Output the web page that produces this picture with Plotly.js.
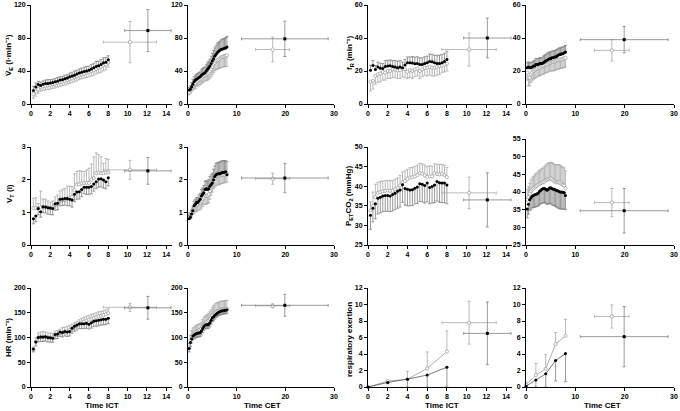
<!DOCTYPE html>
<html>
<head>
<meta charset="utf-8">
<script src="https://cdn.plot.ly/plotly-3.0.1.min.js"></script>
<style>
html, body { margin: 0; padding: 0; background: #fff; }
#chart { width: 680px; height: 411px; }
</style>
</head>
<body>
<div id="chart"></div>
<script>
// sample times (min) of the breath-by-breath means
var time = [0.25, 0.5, 0.75, 1, 1.25, 1.5, 1.75, 2, 2.25, 2.5, 2.75, 3, 3.25, 3.5, 3.75, 4,
            4.25, 4.5, 4.75, 5, 5.25, 5.5, 5.75, 6, 6.25, 6.5, 6.75, 7, 7.25, 7.5, 7.75, 8];
var exertionTime = [0, 2, 4, 6, 8];

// end-of-test points: [filled, open]
var endIctX = [12.1, 10.25];
var endIctXSd = [2.4, 2.75];
var endCetX = [19.9, 17.4];
var endCetXSd = [8.9, 3.5];

// VE
var veIctFilled = [16.5, 20.5, 23.5, 22.5, 24, 25, 25, 25.5, 26, 27, 27.5, 29, 29.5, 30.5, 31.5, 33, 34, 35, 36.5, 37.5, 38.5, 39.5, 40, 41, 42.5, 44, 45.5, 46.5, 48, 50, 50.5, 53.5];
var veIctFilledSd = [5, 5, 4, 4, 4, 4, 4.5, 4, 4, 4, 4.5, 4, 4, 4.5, 4, 4.5, 4.5, 5, 4.5, 5, 5, 5, 5.5, 5, 5.5, 5.5, 6, 5.5, 6, 6, 6, 5];
var veIctOpen = [12, 15, 18, 20.5, 21.5, 22, 22.5, 23, 24, 24.5, 25.5, 26.5, 27, 28, 29, 30, 31, 32.5, 33.5, 35, 36, 37, 38, 39, 40, 41, 42.5, 44, 45, 46.5, 48, 50.5];
var veIctOpenSd = [5, 5.5, 5, 5, 5, 5, 5, 5, 5, 5, 5, 5, 5, 5, 5, 5, 5, 5.5, 5.5, 5.5, 5.5, 5.5, 6, 6, 6, 6, 6, 6.5, 6.5, 6.5, 6.5, 6];
var veCetFilled = [17, 18, 21, 24, 27, 29, 30, 31, 32, 33, 35, 36, 37, 38, 40, 42, 44, 46, 49, 52, 55, 58, 60, 62, 63.5, 65, 66, 66.5, 67, 67.5, 68, 69];
var veCetFilledSd = [3, 4, 5, 6, 6, 6, 6, 6, 6, 6, 6.5, 7, 7, 7, 7.5, 8, 8, 8.5, 9, 9.5, 10, 10, 10.5, 11, 11, 11, 11.5, 12, 12, 12, 12.5, 13];
var veCetOpen = [14, 17, 20, 22, 24, 25, 27, 28, 29, 30, 31, 33, 34, 35, 36, 37, 38, 40, 42, 45, 48, 50, 52, 53, 54, 55, 56, 57, 57.5, 58, 58.5, 59];
var veCetOpenSd = [3, 4, 5, 5, 6, 6, 6, 6, 6, 6.5, 6.5, 7, 7, 7, 7.5, 8, 8, 8.5, 9, 9.5, 10, 10, 10.5, 11, 11, 11.5, 12, 12, 12.5, 13, 13, 13.5];
var veIctEnd = [89, 75], veIctEndSd = [25.5, 25];
var veCetEnd = [79, 66], veCetEndSd = [21.5, 15];

// fR
var frIctFilled = [20.5, 23.4, 20.9, 22.4, 21.7, 21.5, 22.8, 23, 23.2, 22.8, 22.4, 21.9, 22.4, 21.9, 23.6, 25, 25, 24.8, 24.4, 24.6, 24, 24, 24.6, 25, 25.8, 25.6, 25, 24.6, 24.6, 25, 25.8, 27];
var frIctFilledSd = [3, 3, 2.5, 3, 3, 3, 3.5, 3.5, 3.5, 3.5, 4, 4, 4, 3.5, 3.5, 3.5, 3.5, 4, 4, 4, 4, 4, 4, 4, 4.5, 4.5, 4.5, 5, 5, 5, 5, 5];
var frIctOpen = [13.5, 14, 17, 18, 18.5, 19.5, 19, 20, 20, 21, 21, 20.5, 20.5, 21.5, 21, 19.5, 20.5, 20, 21, 21.5, 20, 21, 22, 22, 22.5, 22, 22, 22.5, 23, 23.5, 24, 24.5];
var frIctOpenSd = [5.5, 5, 5, 5, 5, 5, 4.5, 4.5, 4.5, 5, 5, 5, 5, 5, 5, 4, 4.5, 4.5, 4.5, 4.5, 4.5, 4.5, 4.5, 5, 5, 5, 5, 5, 5, 4.5, 4.5, 4.5];
var frCetFilled = [22, 22.5, 22, 22, 22.5, 23, 23, 24, 24, 24, 24.5, 24.5, 24.5, 25, 25.5, 26, 26.5, 27, 27.5, 27.5, 28, 28, 28.5, 28.5, 29, 29.5, 30, 30, 30.5, 30.5, 31, 31.5];
var frCetFilledSd = [3, 3, 3, 3, 3, 3, 3.5, 3.5, 3.5, 3.5, 3.5, 3.5, 3.5, 4, 4, 4, 4, 4, 4, 4, 4, 4, 4, 4, 4, 4, 4, 4, 4, 4, 4, 4];
var frCetOpen = [19, 16, 16, 18, 19, 20, 20.5, 21, 21.5, 22, 22, 22.5, 23, 23, 23.5, 24, 24, 24.5, 25, 25, 25.5, 25.5, 26, 26, 26.5, 26.5, 27, 27, 27, 27.5, 27.5, 28];
var frCetOpenSd = [4.5, 5, 5, 5, 5, 5, 5, 5, 5, 5, 5, 5, 5, 5, 5, 5, 5, 5, 5, 5, 5.5, 5.5, 5.5, 5.5, 5.5, 5.5, 5.5, 5.5, 5.5, 5.5, 5.5, 5.5];
var frIctEnd = [40, 33], frIctEndSd = [12, 10];
var frCetEnd = [39, 32.5], frCetEndSd = [8, 6.5];

// VT
var vtIctFilled = [0.80, 0.89, 1.12, 1.02, 1.17, 1.16, 1.14, 1.13, 1.12, 1.26, 1.28, 1.40, 1.41, 1.42, 1.42, 1.40, 1.38, 1.55, 1.62, 1.63, 1.70, 1.77, 1.77, 1.77, 1.79, 1.87, 1.94, 2.02, 2.03, 1.99, 1.94, 2.06];
var vtIctFilledSd = [0.15, 0.18, 0.2, 0.17, 0.18, 0.18, 0.2, 0.2, 0.2, 0.2, 0.2, 0.2, 0.2, 0.2, 0.22, 0.2, 0.22, 0.22, 0.22, 0.22, 0.22, 0.2, 0.22, 0.22, 0.22, 0.22, 0.22, 0.25, 0.25, 0.25, 0.22, 0.25];
var vtIctOpen = [1.13, 1.13, 1.12, 1.15, 1.16, 1.18, 1.15, 1.13, 1.15, 1.22, 1.25, 1.35, 1.37, 1.38, 1.42, 1.45, 1.47, 1.68, 1.85, 1.86, 1.88, 1.90, 1.90, 1.90, 2.0, 2.05, 2.20, 2.22, 2.20, 2.20, 2.22, 2.22];
var vtIctOpenSd = [0.30, 0.32, 0.15, 0.50, 0.25, 0.22, 0.20, 0.18, 0.20, 0.25, 0.28, 0.30, 0.32, 0.35, 0.38, 0.35, 0.32, 0.50, 0.40, 0.42, 0.38, 0.35, 0.40, 0.45, 0.48, 0.65, 0.62, 0.55, 0.50, 0.30, 0.43, 0.40];
var vtCetFilled = [0.8, 0.85, 0.95, 1.05, 1.2, 1.25, 1.3, 1.3, 1.35, 1.4, 1.5, 1.55, 1.6, 1.7, 1.72, 1.7, 1.72, 1.8, 1.85, 1.9, 2.0, 2.1, 2.15, 2.17, 2.18, 2.18, 2.2, 2.22, 2.22, 2.23, 2.24, 2.15];
var vtCetFilledSd = [0.1, 0.1, 0.12, 0.12, 0.15, 0.15, 0.15, 0.15, 0.18, 0.18, 0.2, 0.2, 0.22, 0.25, 0.25, 0.25, 0.28, 0.3, 0.3, 0.3, 0.32, 0.32, 0.34, 0.35, 0.35, 0.36, 0.36, 0.36, 0.36, 0.35, 0.34, 0.4];
var vtCetOpen = [0.95, 0.95, 1.0, 1.1, 1.15, 1.2, 1.22, 1.25, 1.28, 1.3, 1.35, 1.4, 1.45, 1.5, 1.5, 1.52, 1.55, 1.65, 1.8, 1.9, 2.0, 2.05, 2.1, 2.12, 2.12, 2.13, 2.14, 2.14, 2.15, 2.15, 2.17, 2.18];
var vtCetOpenSd = [0.15, 0.15, 0.15, 0.15, 0.18, 0.18, 0.2, 0.2, 0.2, 0.22, 0.22, 0.22, 0.22, 0.25, 0.25, 0.25, 0.25, 0.25, 0.28, 0.28, 0.28, 0.28, 0.28, 0.28, 0.28, 0.28, 0.26, 0.26, 0.25, 0.25, 0.25, 0.25];
var vtIctEnd = [2.27, 2.3], vtIctEndSd = [0.41, 0.29];
var vtCetEnd = [2.05, 2.03], vtCetEndSd = [0.45, 0.17];

// PETCO2
var petIctFilled = [32.6, 34.4, 35.5, 36.9, 37.2, 37.5, 37.6, 37.6, 37.5, 37.9, 38.2, 38.7, 39.0, 40.4, 39.4, 39.2, 39.0, 39.1, 39.5, 39.8, 40.6, 40.5, 40.2, 40.8, 39.7, 39.9, 40.3, 41.2, 40.9, 40.8, 40.8, 40.3];
var petIctFilledSd = [3.6, 3.5, 3.8, 4, 4, 4, 4, 4, 4, 4.2, 4.2, 4.3, 4.3, 4.5, 4.2, 4.2, 4, 4, 4, 4.2, 4.5, 4.5, 4.5, 4.8, 4.2, 4.2, 4.5, 5, 5, 5, 5, 4.8];
var petIctOpen = [33.8, 35, 37.2, 38.3, 38.5, 38.7, 38.8, 38.9, 38.8, 38.8, 39.2, 39.6, 40.2, 41, 41.3, 41.8, 42.2, 42.3, 42.5, 42.8, 43.3, 43.2, 42.8, 42.4, 42.5, 42.5, 43.3, 43.1, 43, 43.2, 42.8, 42.3];
var petIctOpenSd = [2.2, 3.5, 3.3, 2.7, 2.7, 2.6, 2.6, 2.6, 2.6, 2.7, 2.6, 2.5, 2.6, 2.6, 2.6, 2.5, 2.5, 2.5, 2.6, 2.6, 2.5, 2.5, 2.6, 2.6, 2.7, 2.6, 2.4, 2.5, 2.5, 2.4, 2.5, 2.5];
var petCetFilled = [35.2, 36.5, 37.8, 38.3, 38.8, 39.0, 39.2, 39.3, 39.5, 39.7, 40.2, 40.5, 40.8, 41.0, 41.0, 40.8, 40.5, 40.8, 41.1, 41.2, 41.0, 40.8, 40.8, 40.6, 40.4, 40.3, 40.1, 40.0, 40.0, 39.9, 39.8, 39.0];
var petCetFilledSd = [2.5, 2.8, 3, 3.2, 3.3, 3.4, 3.5, 3.5, 3.6, 3.6, 3.8, 3.8, 4, 4, 4, 4, 4, 4.2, 4.3, 4.5, 4.5, 4.6, 4.6, 4.7, 4.7, 4.8, 4.8, 4.8, 4.8, 4.8, 4.6, 4];
var petCetOpen = [37.8, 38.5, 39.5, 40.2, 40.7, 41.0, 41.3, 41.6, 41.8, 42.1, 42.3, 42.5, 42.7, 42.8, 43, 43.3, 43.5, 43.6, 43.7, 43.8, 43.6, 43.3, 43.0, 42.8, 42.7, 42.8, 42.7, 42.5, 42.2, 42.0, 41.8, 41.0];
var petCetOpenSd = [3, 3, 3, 3.2, 3.3, 3.4, 3.5, 3.6, 3.6, 3.8, 3.8, 3.9, 4, 4, 4.2, 4.3, 4.4, 4.5, 4.6, 4.6, 4.7, 4.8, 4.8, 4.9, 5, 5, 5, 5, 5, 5, 5, 5];
var petIctEnd = [36.5, 38.3], petIctEndSd = [6.9, 4];
var petCetEnd = [34.7, 37], petCetEndSd = [6.3, 4];

// HR
var hrIctFilled = [76.8, 91, 100, 101, 101, 101.7, 100, 99.7, 98.3, 106, 107, 111, 110, 112, 111, 112, 118.5, 122.6, 125, 128, 128, 128, 128.6, 127, 130, 133, 134, 134.7, 136, 136.7, 137, 139];
var hrIctFilledSd = [6, 8, 9, 9, 9, 9, 9, 9, 8, 9, 9, 9, 9, 9, 9, 9, 10, 10, 10, 10, 10, 10, 10, 10, 11, 11, 11, 11, 11, 11, 11, 11];
var hrIctOpen = [76, 92, 100, 101, 102, 101, 100, 100, 100, 104, 105, 108, 110, 112, 113, 115, 118, 121, 124, 127, 130, 132, 134, 136, 138, 139, 141, 143, 144, 145, 147, 149];
var hrIctOpenSd = [5, 7, 9, 10, 10, 10, 9, 9, 9, 9, 9, 9, 10, 9, 9, 9, 9, 9, 9, 9, 9, 9, 9, 9, 9, 9, 9, 9, 9, 9, 9, 9];
var hrCetFilled = [78, 90, 97, 103, 105, 107, 108, 109, 109, 110, 113, 118, 122, 125, 126, 126, 127, 130, 135, 140, 142, 145, 147, 149, 151, 152, 153, 154, 154, 155, 155, 156];
var hrCetFilledSd = [7, 8, 8, 8, 8, 8, 8, 8, 8, 8, 8, 8, 8, 8, 8, 8, 8, 8, 8, 8, 8, 8, 7, 7, 7, 7, 7, 7, 7, 7, 7, 7];
var hrCetOpen = [80, 95, 102, 106, 108, 110, 112, 113, 114, 115, 118, 122, 126, 129, 131, 132, 134, 137, 141, 145, 148, 150, 152, 153, 154, 155, 156, 157, 157, 157, 158, 158];
var hrCetOpenSd = [8, 10, 12, 13, 13, 13, 13, 13, 13, 13, 13, 14, 14, 14, 14, 14, 15, 15, 15, 16, 16, 16, 17, 17, 17, 17, 17, 17, 17, 17, 17, 17];
var hrIctEnd = [160, 161], hrIctEndSd = [23, 8];
var hrCetEnd = [165, 164], hrCetEndSd = [22, 4];

// respiratory exertion
var exIctFilled = [0, 0.55, 0.95, 1.45, 2.4];
var exIctFilledSd = [0, 0.15, 0.95, 1.45, 2.3];
var exIctOpen = [0, 0.7, 0.95, 2.25, 4.3];
var exIctOpenSd = [0, 0.15, 0.95, 2.0, 2.5];
var exCetFilled = [0.1, 0.85, 1.6, 3.2, 4.05];
var exCetFilledSd = [0.1, 0.85, 1.6, 2.45, 3.4];
var exCetOpen = [0.3, 1.45, 2.2, 5.2, 6.2];
var exCetOpenSd = [0.3, 1.4, 1.75, 1.4, 2.0];
var exIctEnd = [6.5, 7.8], exIctEndSd = [3.8, 2.6];
var exCetEnd = [6.1, 8.55], exCetEndSd = [3.65, 1.4];

var W = 680, H = 411;
var FONT = 'Liberation Sans, Arial, sans-serif';

// pixel boxes of the 4 columns and 3 rows
var colPx = [[31, 172], [188, 334], [368, 512], [526, 674]];
var rowPx = [[5, 104], [147, 245], [288, 387]];

function zeros(a) { return a.map(function() { return 0; }); }

function series(ax, x, y, sd, up, filled, withLine) {
    return {
        x: x, y: y, xaxis: 'x' + ax, yaxis: 'y' + ax,
        type: 'scatter', mode: withLine ? 'lines+markers' : 'markers',
        cliponaxis: false, showlegend: false, hoverinfo: 'skip',
        line: { color: filled ? '#555' : '#999', width: 0.8 },
        marker: filled ? { color: '#000', size: 3 }
                       : { color: '#fff', size: 3.2, line: { color: '#999', width: 0.7 } },
        error_y: {
            type: 'data', symmetric: false,
            array: up ? sd : zeros(sd), arrayminus: up ? zeros(sd) : sd,
            color: filled ? '#808080' : '#aaa', thickness: 0.8, width: 1.5
        }
    };
}

function endPoint(ax, x, xsd, y, ysd, filled) {
    return {
        x: [x], y: [y], xaxis: 'x' + ax, yaxis: 'y' + ax,
        type: 'scatter', mode: 'markers', cliponaxis: false,
        showlegend: false, hoverinfo: 'skip',
        marker: filled ? { color: '#000', size: 3, symbol: 'square' }
                       : { color: '#fff', size: 3.4, line: { color: '#999', width: 0.7 } },
        error_x: { type: 'data', array: [xsd], color: filled ? '#808080' : '#aaa', thickness: 0.8, width: 1.5 },
        error_y: { type: 'data', array: [ysd], color: filled ? '#808080' : '#aaa', thickness: 0.8, width: 1.5 }
    };
}

// panel list: [axis no, x, filled, filledSd, open, openSd, openUp, end, endSd, ict, line]
var panels = [
    [1, time, veIctFilled, veIctFilledSd, veIctOpen, veIctOpenSd, false, veIctEnd, veIctEndSd, true, false],
    [2, time, veCetFilled, veCetFilledSd, veCetOpen, veCetOpenSd, false, veCetEnd, veCetEndSd, false, false],
    [3, time, frIctFilled, frIctFilledSd, frIctOpen, frIctOpenSd, false, frIctEnd, frIctEndSd, true, false],
    [4, time, frCetFilled, frCetFilledSd, frCetOpen, frCetOpenSd, false, frCetEnd, frCetEndSd, false, false],
    [5, time, vtIctFilled, vtIctFilledSd, vtIctOpen, vtIctOpenSd, true, vtIctEnd, vtIctEndSd, true, false],
    [6, time, vtCetFilled, vtCetFilledSd, vtCetOpen, vtCetOpenSd, false, vtCetEnd, vtCetEndSd, false, false],
    [7, time, petIctFilled, petIctFilledSd, petIctOpen, petIctOpenSd, true, petIctEnd, petIctEndSd, true, false],
    [8, time, petCetFilled, petCetFilledSd, petCetOpen, petCetOpenSd, true, petCetEnd, petCetEndSd, false, false],
    [9, time, hrIctFilled, hrIctFilledSd, hrIctOpen, hrIctOpenSd, true, hrIctEnd, hrIctEndSd, true, false],
    [10, time, hrCetFilled, hrCetFilledSd, hrCetOpen, hrCetOpenSd, true, hrCetEnd, hrCetEndSd, false, false],
    [11, exertionTime, exIctFilled, exIctFilledSd, exIctOpen, exIctOpenSd, true, exIctEnd, exIctEndSd, true, true],
    [12, exertionTime, exCetFilled, exCetFilledSd, exCetOpen, exCetOpenSd, true, exCetEnd, exCetEndSd, false, true]
];

// y ranges [min, max, dtick]
var yRanges = [[0, 120, 40], [0, 120, 40], [0, 60, 20], [0, 60, 20],
               [0, 3, 1], [0, 3, 1], [25, 50, 5], [25, 55, 5],
               [0, 200, 50], [0, 200, 50], [0, 12, 2], [0, 12, 2]];

var data = [];
var layout = {
    width: W, height: H, margin: { l: 0, r: 0, t: 0, b: 0 },
    paper_bgcolor: '#fff', plot_bgcolor: 'rgba(0,0,0,0)',
    font: { family: FONT, size: 7, color: '#000' },
    annotations: []
};

panels.forEach(function(p) {
    var ax = p[0] === 1 ? '' : p[0];
    var idx = p[0] - 1;
    var col = idx % 4, row = Math.floor(idx / 4);
    var ict = p[9];
    var openUp = p[6];

    data.push(series(ax, p[1], p[4], p[5], openUp, false, p[10]));
    data.push(series(ax, p[1], p[2], p[3], !openUp, true, p[10]));
    var ex = ict ? endIctX : endCetX, exSd = ict ? endIctXSd : endCetXSd;
    data.push(endPoint(ax, ex[1], exSd[1], p[7][1], p[8][1], false));
    data.push(endPoint(ax, ex[0], exSd[0], p[7][0], p[8][0], true));

    var cp = colPx[col], rp = rowPx[row].slice();
    if (p[0] === 8) rp[0] = 139;
    var axisStyle = {
        showline: true, linecolor: '#000', linewidth: 1,
        ticks: 'outside', ticklen: 3, tickwidth: 1, tickcolor: '#000',
        showgrid: false, zeroline: false, fixedrange: true,
        tickfont: { family: FONT, size: 7, weight: 'bold', color: '#000' }
    };
    layout['xaxis' + ax] = Object.assign({}, axisStyle, {
        domain: [cp[0] / W, cp[1] / W],
        range: ict ? [0, 14.6] : [0, 30],
        tickmode: 'linear', tick0: 0, dtick: ict ? 2 : 10,
        anchor: 'y' + ax
    });
    var yr = yRanges[idx];
    layout['yaxis' + ax] = Object.assign({}, axisStyle, {
        domain: [1 - rp[1] / H, 1 - rp[0] / H],
        range: [yr[0], yr[1]],
        tickmode: 'linear', tick0: yr[0], dtick: yr[2],
        anchor: 'x' + ax
    });
});

var yTitles = [
    ['V\u0307<sub>E</sub> (l\u00b7min\u207b\u00b9)', 9, 55],
    ['f<sub>R</sub> (min\u207b\u00b9)', 350, 53],
    ['V<sub>T</sub> (l)', 10, 194],
    ['P<sub>ET</sub>CO<sub>2</sub> (mmHg)', 349, 196],
    ['HR (min\u207b\u00b9)', 8, 338],
    ['respiratory exertion', 349, 339]
];
yTitles.forEach(function(t) {
    layout.annotations.push({
        text: t[0], xref: 'paper', yref: 'paper', x: t[1] / W, y: 1 - t[2] / H,
        xanchor: 'center', yanchor: 'middle', textangle: -90, showarrow: false,
        font: { family: FONT, size: 8, weight: 'bold', color: '#000' }
    });
});

var xTitles = [['Time ICT', 102], ['Time CET', 262], ['Time ICT', 442], ['Time CET', 602]];
xTitles.forEach(function(t) {
    layout.annotations.push({
        text: t[0], xref: 'paper', yref: 'paper', x: t[1] / W, y: 1 - 405 / H,
        xanchor: 'center', yanchor: 'middle', showarrow: false,
        font: { family: FONT, size: 8, weight: 'bold', color: '#000' }
    });
});

Plotly.newPlot('chart', data, layout, { staticPlot: true, displayModeBar: false });
</script>
</body>
</html>
